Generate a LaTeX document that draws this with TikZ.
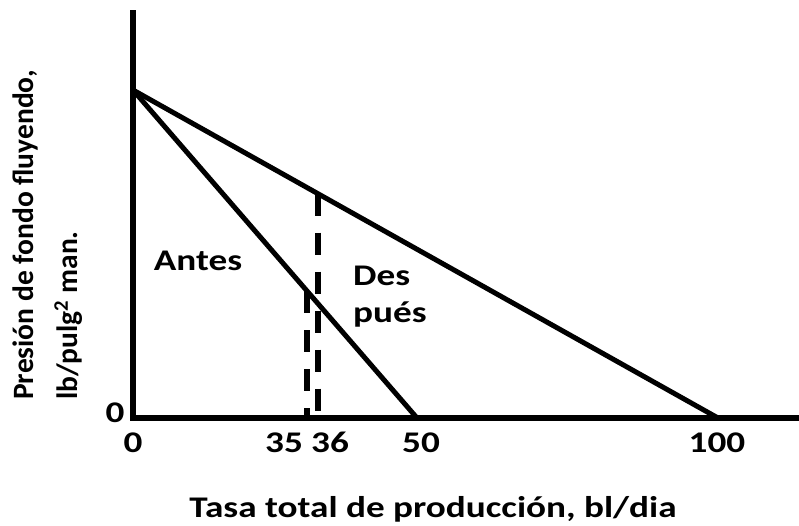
\documentclass[tikz,border=0pt]{standalone}
\usepackage{fontspec}
\setmainfont{Carlito}
\newfontfamily\widefont{Carlito}[FakeStretch=1.24]
\usetikzlibrary{positioning,calc}

\begin{document}
\begin{tikzpicture}[x=1pt, y=1pt, ax/.style={line width=5.5pt}, ln/.style={line width=5pt}, d/.style={line width=5.5pt, dash pattern=on 22pt off 17pt}, t/.style={font=\widefont\bfseries\fontsize{30}{36}\selectfont, inner sep=0pt}, vt/.style={font=\bfseries\fontsize{29.5}{36}\selectfont, inner sep=0pt, rotate=90, anchor=base west}]
		\useasboundingbox (0,0) rectangle (799,-525);
		\coordinate (O) at (133,-418);
		\coordinate (Ytop) at (133,-10);
		\coordinate (Xend) at (799,-418);
		\coordinate (P) at (133,-90);
		\coordinate (E50) at (417,-418);
		\coordinate (E100) at (718,-418);
		\coordinate (I35) at ($(P)!0.613!(E50)$);
		\coordinate (I36) at ($(P)!0.316!(E100)$);

		\draw[ax] (Ytop) -- (O) -- (Xend);
		\draw[ln] (P) -- (E50);
		\draw[ln] (P) -- (E100);
		\draw[d] (I35) -- (I35 |- O);
		\draw[d] (I36) -- (I36 |- O);

		\node[t, anchor=base] (Antes) at (198,-270) {Antes};
		\node[t, anchor=base west] (Des) at (353,-285) {Des};
		\node[t, anchor=base west] (Pues) at (353,-322) {pués};

		\node[t, anchor=base] (Y0) at (115,-422) {0};
		\node[t, anchor=base] (X0) at (133,-452) {0};
		\node[t, anchor=base] (X35) at (284,-452) {35};
		\node[t, anchor=base] (X36) at (330,-452) {36};
		\node[t, anchor=base] (X50) at (421,-452) {50};
		\node[t, anchor=base] (X100) at (717,-452) {100};

		\node[t, anchor=base] (Xlabel) at (433,-517) {Tasa total de producción, bl/dia};
		\node[vt] (Ylabel) at (33,-400) {Presión de fondo fluyendo,};
		\node[vt] (Yunit) at (77,-400) {lb/pulg\textsuperscript{2} man.};
	\end{tikzpicture}
\end{document}
